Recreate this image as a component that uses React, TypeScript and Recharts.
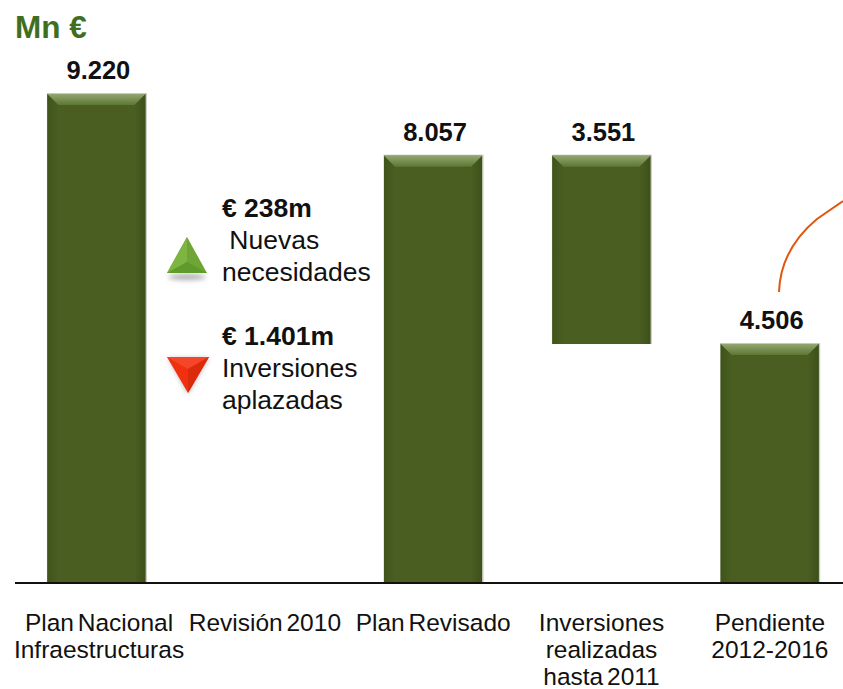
import React from 'react';
import { BarChart, Bar, XAxis, YAxis, LabelList } from 'recharts';

const categories = ['Plan Nacional', 'Revisión 2010', 'Plan Revisado', 'Inversiones', 'Pendiente'];
const tickLines = [
  ['Plan Nacional', 'Infraestructuras'],
  ['Revisión 2010'],
  ['Plan Revisado'],
  ['Inversiones', 'realizadas', 'hasta 2011'],
  ['Pendiente', '2012-2016'],
];
const barLow = [0, null, 0, 4506, 0];
const barHigh = [9220, null, 8057, 8057, 4506];
const barValue = [9220, null, 8057, 3551, 4506];

const data = categories.map((name, i) => ({
  name,
  lines: tickLines[i],
  range: barLow[i] === null ? null : [barLow[i], barHigh[i]],
  value: barValue[i],
}));

const FONT = '"Liberation Sans", Arial, sans-serif';

// bevelled bar, like the powerpoint original
function BevelBar(props: any) {
  const { x, y, width, height } = props;
  if (!height) return null;
  const b = 11;
  const r = x + width;
  const bot = y + height;
  return (
    <g>
      <rect x={x - 0.5} y={y - 1} width={width + 2} height={height + 1} fill="#c9c9c2" />
      <rect x={x} y={y} width={width} height={height} fill="#4a5e22" />
      <polygon points={`${x},${y} ${x + b},${y + b} ${x + b},${bot} ${x},${bot}`} fill="url(#bevelLeft)" />
      <polygon points={`${r},${y} ${r - b},${y + b} ${r - b},${bot} ${r},${bot}`} fill="url(#bevelRight)" />
      <polygon points={`${x},${y} ${r},${y} ${r - b},${y + b} ${x + b},${y + b}`} fill="url(#bevelTop)" />
    </g>
  );
}

function MultiLineTick(props: any) {
  const { x, y, index } = props;
  const lines = tickLines[index] || [];
  return (
    <text x={x} y={y} textAnchor="middle" fontFamily={FONT} fontSize={24.5} wordSpacing={-3} fill="#111">
      {lines.map((line, i) => (
        <tspan key={line} x={index === 0 ? x + 2.5 : x} dy={i === 0 ? 0 : 27}>{line}</tspan>
      ))}
    </text>
  );
}

const noteStyle: React.CSSProperties = {
  position: 'absolute',
  fontFamily: FONT,
  fontSize: 26.5,
  lineHeight: '32px',
  color: '#111',
  whiteSpace: 'pre',
};

export default function App() {
  return (
    <div style={{ position: 'absolute', left: 0, top: 0, width: 843, height: 689, overflow: 'hidden', background: '#fff' }}>
      <div style={{ position: 'absolute', left: 15, top: 9, fontFamily: FONT, fontWeight: 700, fontSize: 31.5, color: '#3f6f1e' }}>Mn €</div>

      <BarChart
        width={854}
        height={689}
        data={data}
        margin={{ top: 94, right: 0, bottom: 0, left: 15 }}
        barCategoryGap={0}
      >
        <defs>
          <linearGradient id="bevelTop" x1="0" y1="0" x2="0" y2="1">
            <stop offset="0%" stopColor="#93a670" />
            <stop offset="100%" stopColor="#5c7732" />
          </linearGradient>
          <linearGradient id="bevelLeft" x1="0" y1="0" x2="1" y2="0">
            <stop offset="0%" stopColor="#3f5419" />
            <stop offset="100%" stopColor="#4a5e22" />
          </linearGradient>
          <linearGradient id="bevelRight" x1="0" y1="0" x2="1" y2="0">
            <stop offset="0%" stopColor="#4a5e22" />
            <stop offset="100%" stopColor="#3c5119" />
          </linearGradient>
        </defs>
        <XAxis
          dataKey="name"
          height={106}
          interval={0}
          tickLine={false}
          padding={{ left: -2.6, right: 0 }}
          axisLine={{ stroke: '#111', strokeWidth: 2 }}
          tick={<MultiLineTick />}
          tickMargin={42}
        />
        <YAxis hide domain={[0, 9220]} />
        <Bar dataKey="range" barSize={98} shape={<BevelBar />} isAnimationActive={false}>
          <LabelList
            dataKey="value"
            position="top"
            offset={15}
            dx={2}
            formatter={(v: any) => (v == null ? '' : String(v).replace(/\B(?=(\d{3})+$)/g, '.'))}
            style={{ fontFamily: FONT, fontWeight: 700, fontSize: 25.5, fill: '#111' }}
          />
        </Bar>
      </BarChart>

      <div style={{ ...noteStyle, left: 222, top: 192, fontWeight: 700 }}>€ 238m</div>
      <div style={{ ...noteStyle, left: 222, top: 224 }}>{' Nuevas\nnecesidades'}</div>
      <div style={{ ...noteStyle, left: 222, top: 320, fontWeight: 700 }}>€ 1.401m</div>
      <div style={{ ...noteStyle, left: 222, top: 352 }}>{'Inversiones\naplazadas'}</div>

      <svg width={843} height={689} style={{ position: 'absolute', left: 0, top: 0, pointerEvents: 'none' }}>
        <defs>
          <filter id="blurShadow" x="-30%" y="-100%" width="160%" height="300%">
            <feGaussianBlur stdDeviation="2.5" />
          </filter>
        </defs>
        <ellipse cx={187} cy={277} rx={19} ry={3} fill="#777" opacity={0.6} filter="url(#blurShadow)" />
        <polygon points="187,237 207,273 167,273" fill="#6fa534" />
        <polygon points="187,237 187,262 167,273" fill="#7db542" />
        <polygon points="167,273 187,262 207,273" fill="#5f9a2c" />
        <polygon points="168,358 209,358 188,394" fill="#777" opacity={0.5} filter="url(#blurShadow)" />
        <polygon points="167,357 209,357 188,393" fill="#f0300f" />
        <polygon points="167,357 209,357 188,369" fill="#f4472a" />
        <polygon points="188,369 209,357 188,393" fill="#dc2a0c" />
        <path d="M779,292 C780,262 793,239 817,219 L843,201" fill="none" stroke="#e0560f" strokeWidth={2} />
      </svg>
    </div>
  );
}
